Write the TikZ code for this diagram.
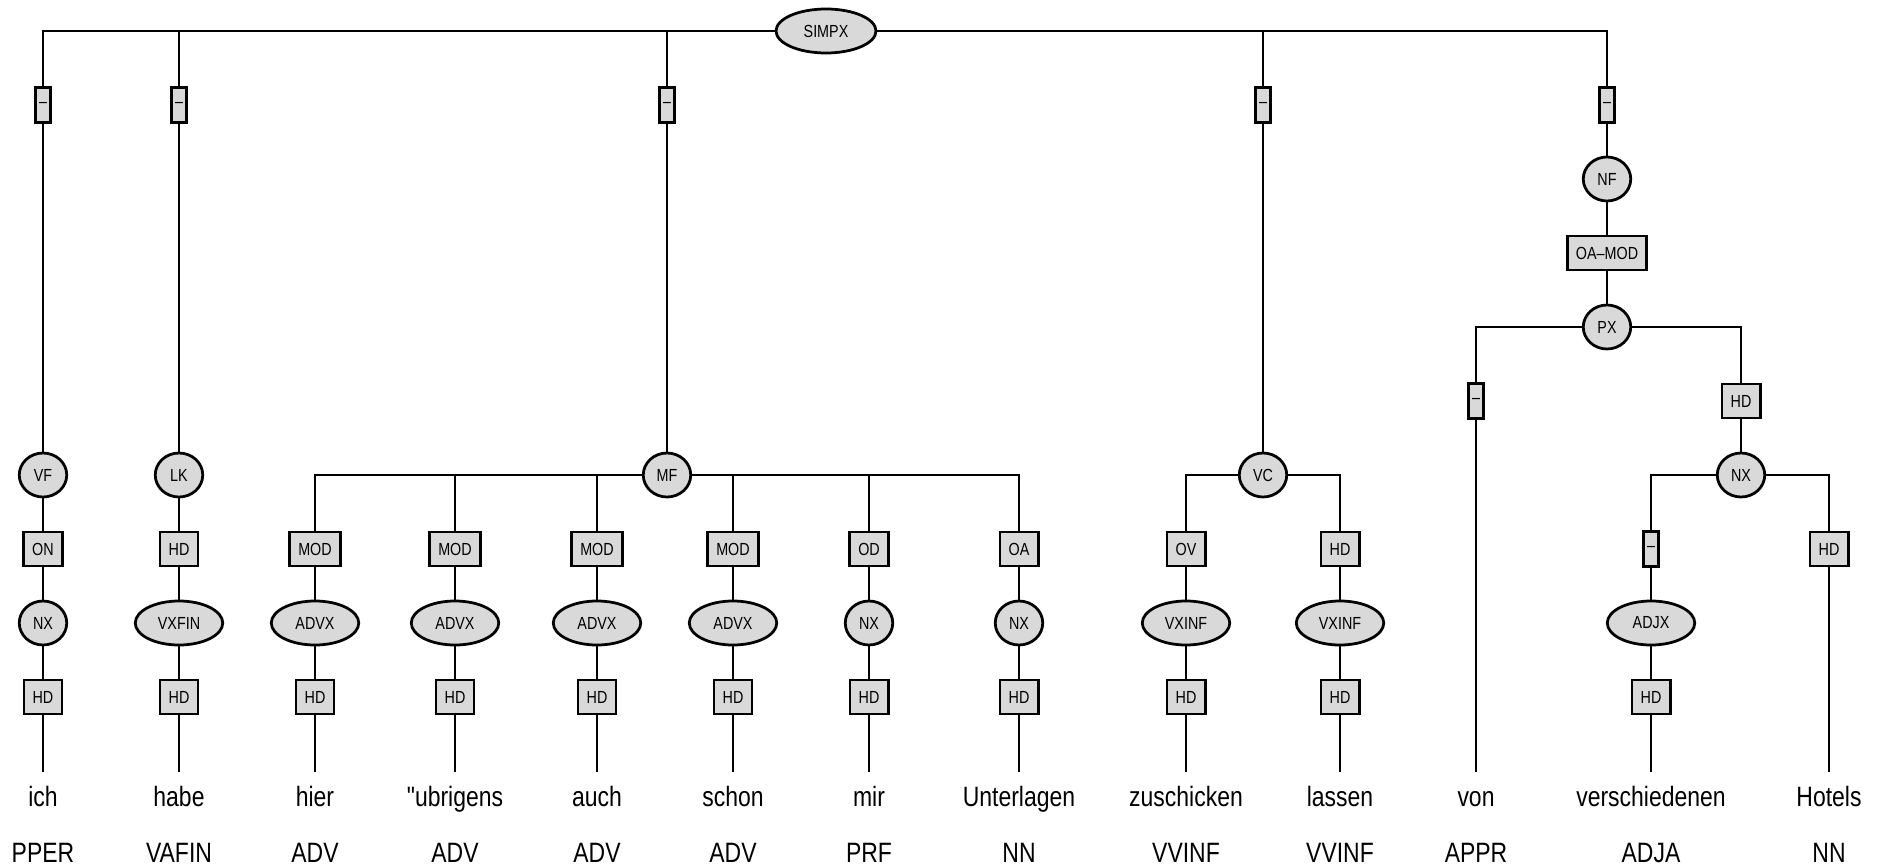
\documentclass[tikz,border=0pt]{standalone}
\usepackage{fontspec}
\setmainfont[FakeStretch=0.82]{Liberation Sans}
\newfontfamily\wordfont[FakeStretch=0.82,Ligatures=TeXOff]{Liberation Sans}
\usetikzlibrary{shapes,positioning}

\begin{document}
\begin{tikzpicture}[x=0.4pt, y=-0.4pt, node distance=29.6pt,
        cat/.style={ellipse, draw, line width=1.1pt, fill=black!15, inner sep=1pt, minimum width=19pt, minimum height=17.6pt, font=\fontsize{7}{8}\selectfont},
        catw/.style={cat, minimum width=35pt},
        func/.style={rectangle, draw, line width=1.1pt, fill=black!15, inner xsep=3.5pt, inner ysep=0pt, minimum height=13.6pt, font=\fontsize{7}{8}\selectfont},
        nolab/.style={func, inner xsep=1pt, minimum width=6pt, minimum height=14pt},
        word/.style={anchor=base, inner xsep=0pt, inner ysep=5.6pt, text height=8pt, text depth=2pt, font=\wordfont\fontsize{11.2}{13}\selectfont},
        tag/.style={anchor=base, inner sep=0pt, font=\wordfont\fontsize{11.2}{13}\selectfont},
        line/.style={draw, line width=0.95pt}]
        \useasboundingbox (0,0) rectangle (1879,866);

        % root and its daughters
        \node [cat, minimum width=40pt] (simpx) at (826,31) {SIMPX};
        \node [nolab] (dvf) at (43,105) {--};
        \node [nolab] (dlk) at (179,105) {--};
        \node [nolab] (dmf) at (667,105) {--};
        \node [nolab] (dvc) at (1263,105) {--};
        \node [nolab] (dnf) at (1607,105) {--};

        % VF
        \node [cat] (vf) at (43,475) {VF};
        \node [func, below of=vf] (on) {ON};
        \node [cat, below of=on] (nxich) {NX};
        \node [func, below of=nxich] (hdich) {HD};

        % LK
        \node [cat] (lk) at (179,475) {LK};
        \node [func, below of=lk] (hdlk) {HD};
        \node [catw, below of=hdlk] (vxfin) {VXFIN};
        \node [func, below of=vxfin] (hdhabe) {HD};

        % MF
        \node [cat] (mf) at (667,475) {MF};
        \node [func] (modhier) at (315,549) {MOD};
        \node [catw, below of=modhier] (advxhier) {ADVX};
        \node [func, below of=advxhier] (hdhier) {HD};
        \node [func] (modubr) at (455,549) {MOD};
        \node [catw, below of=modubr] (advxubr) {ADVX};
        \node [func, below of=advxubr] (hdubr) {HD};
        \node [func] (modauch) at (597,549) {MOD};
        \node [catw, below of=modauch] (advxauch) {ADVX};
        \node [func, below of=advxauch] (hdauch) {HD};
        \node [func] (modschon) at (733,549) {MOD};
        \node [catw, below of=modschon] (advxschon) {ADVX};
        \node [func, below of=advxschon] (hdschon) {HD};
        \node [func] (od) at (869,549) {OD};
        \node [cat, below of=od] (nxmir) {NX};
        \node [func, below of=nxmir] (hdmir) {HD};
        \node [func] (oa) at (1019,549) {OA};
        \node [cat, below of=oa] (nxunt) {NX};
        \node [func, below of=nxunt] (hdunt) {HD};

        % VC
        \node [cat] (vc) at (1263,475) {VC};
        \node [func] (ov) at (1186,549) {OV};
        \node [catw, below of=ov] (vxinfzu) {VXINF};
        \node [func, below of=vxinfzu] (hdzu) {HD};
        \node [func] (hdvc) at (1340,549) {HD};
        \node [catw, below of=hdvc] (vxinflas) {VXINF};
        \node [func, below of=vxinflas] (hdlas) {HD};

        % NF
        \node [cat] (nf) at (1607,179) {NF};
        \node [func, below of=nf] (oamod) {OA--MOD};
        \node [cat, below of=oamod] (px) {PX};
        \node [nolab] (dvon) at (1476,401) {--};
        \node [func] (hdpx) at (1741,401) {HD};
        \node [cat, below of=hdpx] (nxhot) {NX};
        \node [nolab] (dadjx) at (1651,549) {--};
        \node [catw, below of=dadjx] (adjx) {ADJX};
        \node [func, below of=adjx] (hdver) {HD};
        \node [func] (hdhot) at (1829,549) {HD};

        % words
        \node [word] (ich) at (43,806) {ich};
        \node [word] (habe) at (179,806) {habe};
        \node [word] (hier) at (315,806) {hier};
        \node [word] (ubr) at (455,806) {"ubrigens};
        \node [word] (auch) at (597,806) {auch};
        \node [word] (schon) at (733,806) {schon};
        \node [word] (mir) at (869,806) {mir};
        \node [word] (unt) at (1019,806) {Unterlagen};
        \node [word] (zu) at (1186,806) {zuschicken};
        \node [word] (las) at (1340,806) {lassen};
        \node [word] (von) at (1476,806) {von};
        \node [word] (ver) at (1651,806) {verschiedenen};
        \node [word] (hot) at (1829,806) {Hotels};

        % part-of-speech tags
        \node [tag] (tich) at (43,862) {PPER};
        \node [tag] (thabe) at (179,862) {VAFIN};
        \node [tag] (thier) at (315,862) {ADV};
        \node [tag] (tubr) at (455,862) {ADV};
        \node [tag] (tauch) at (597,862) {ADV};
        \node [tag] (tschon) at (733,862) {ADV};
        \node [tag] (tmir) at (869,862) {PRF};
        \node [tag] (tunt) at (1019,862) {NN};
        \node [tag] (tzu) at (1186,862) {VVINF};
        \node [tag] (tlas) at (1340,862) {VVINF};
        \node [tag] (tvon) at (1476,862) {APPR};
        \node [tag] (tver) at (1651,862) {ADJA};
        \node [tag] (thot) at (1829,862) {NN};

        % branches
        \path [line] (simpx) -| (dvf) -- (vf) -- (on) -- (nxich) -- (hdich) -- (ich);
        \path [line] (simpx) -| (dlk) -- (lk) -- (hdlk) -- (vxfin) -- (hdhabe) -- (habe);
        \path [line] (simpx) -| (dmf) -- (mf);
        \path [line] (simpx) -| (dvc) -- (vc);
        \path [line] (simpx) -| (dnf) -- (nf) -- (oamod) -- (px);
        \path [line] (mf) -| (modhier) -- (advxhier) -- (hdhier) -- (hier);
        \path [line] (mf) -| (modubr) -- (advxubr) -- (hdubr) -- (ubr);
        \path [line] (mf) -| (modauch) -- (advxauch) -- (hdauch) -- (auch);
        \path [line] (mf) -| (modschon) -- (advxschon) -- (hdschon) -- (schon);
        \path [line] (mf) -| (od) -- (nxmir) -- (hdmir) -- (mir);
        \path [line] (mf) -| (oa) -- (nxunt) -- (hdunt) -- (unt);
        \path [line] (vc) -| (ov) -- (vxinfzu) -- (hdzu) -- (zu);
        \path [line] (vc) -| (hdvc) -- (vxinflas) -- (hdlas) -- (las);
        \path [line] (px) -| (dvon) -- (von);
        \path [line] (px) -| (hdpx) -- (nxhot);
        \path [line] (nxhot) -| (dadjx) -- (adjx) -- (hdver) -- (ver);
        \path [line] (nxhot) -| (hdhot) -- (hot);
    \end{tikzpicture}
\end{document}
